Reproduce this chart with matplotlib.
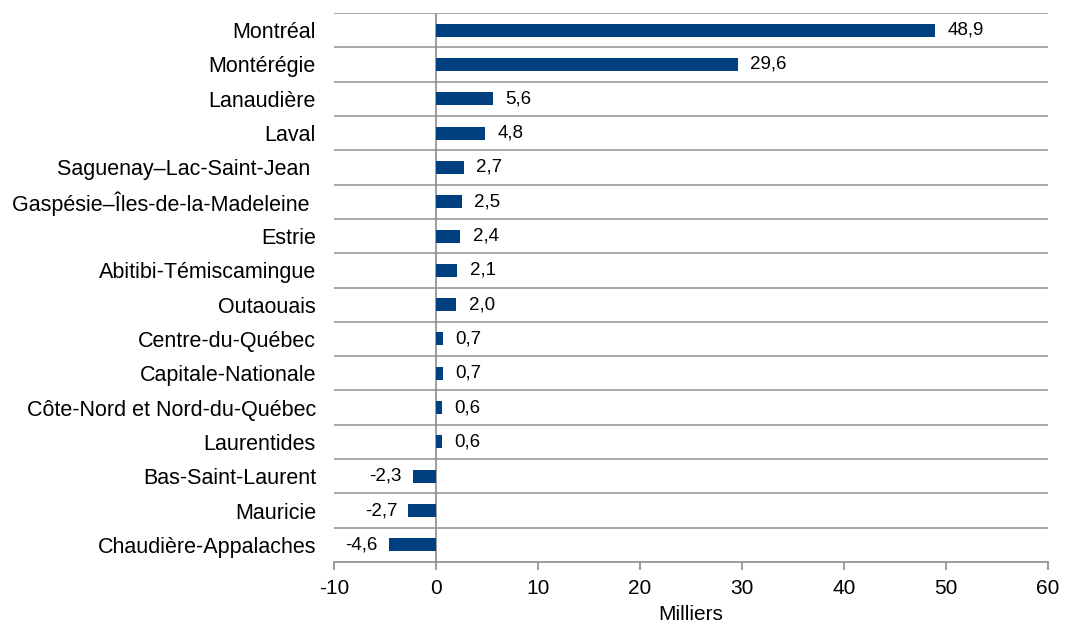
import matplotlib.pyplot as plt
from matplotlib.ticker import FixedLocator

plt.rcParams['font.family'] = ['Liberation Sans', 'DejaVu Sans']

# Régions (du haut vers le bas) et variation en milliers
regions = ['Montréal', 'Montérégie', 'Lanaudière', 'Laval',
           'Saguenay–Lac-Saint-Jean ', 'Gaspésie–Îles-de-la-Madeleine ',
           'Estrie', 'Abitibi-Témiscamingue', 'Outaouais', 'Centre-du-Québec',
           'Capitale-Nationale', 'Côte-Nord et Nord-du-Québec', 'Laurentides',
           'Bas-Saint-Laurent', 'Mauricie', 'Chaudière-Appalaches']
values = [48.9, 29.6, 5.6, 4.8, 2.7, 2.5, 2.4, 2.1, 2.0, 0.7, 0.7, 0.6, 0.6,
          -2.3, -2.7, -4.6]
xticks = [-10, 0, 10, 20, 30, 40, 50, 60]

fig = plt.figure(figsize=(10.65, 6.25), dpi=100)
ax = fig.add_axes([334 / 1065, 1 - 562 / 625, 714 / 1065, 549 / 625])

n = len(regions)
ypos = list(range(n))
ax.barh(ypos, values, height=0.38, color='#003f80', zorder=3)
ax.set_ylim(n - 0.5, -0.5)
ax.set_xlim(-10, 60)

# lignes horizontales entre les catégories
ax.set_yticks(ypos)
ax.set_yticklabels(regions, fontsize=15.5)
ax.yaxis.set_minor_locator(FixedLocator([i - 0.5 for i in range(n)]))
ax.grid(True, axis='y', which='minor', color='#9a9a9a', linewidth=1.2, zorder=0)
ax.tick_params(axis='y', which='both', length=0, pad=13)

ax.axvline(0, color='#8c8c8c', linewidth=1.2, zorder=2)

ax.set_xticks(xticks)
ax.set_xticklabels([str(t) for t in xticks], fontsize=15)
ax.tick_params(axis='x', length=6, width=1.2, color='#8c8c8c', pad=6)
ax.set_xlabel('Milliers', fontsize=15, labelpad=5)

for s in ['left', 'right', 'top']:
    ax.spines[s].set_visible(False)
ax.spines['bottom'].set_color('#8c8c8c')
ax.spines['bottom'].set_linewidth(1.2)

for y, v in zip(ypos, values):
    txt = f'{v:.1f}'.replace('.', ',')
    if v >= 0:
        ax.annotate(txt, (v, y), xytext=(9, 0), textcoords='offset points',
                    ha='left', va='center', fontsize=13.5)
    else:
        ax.annotate(txt, (v, y), xytext=(-8, 0), textcoords='offset points',
                    ha='right', va='center', fontsize=13.5)

fig.savefig('out.png', dpi=100)
